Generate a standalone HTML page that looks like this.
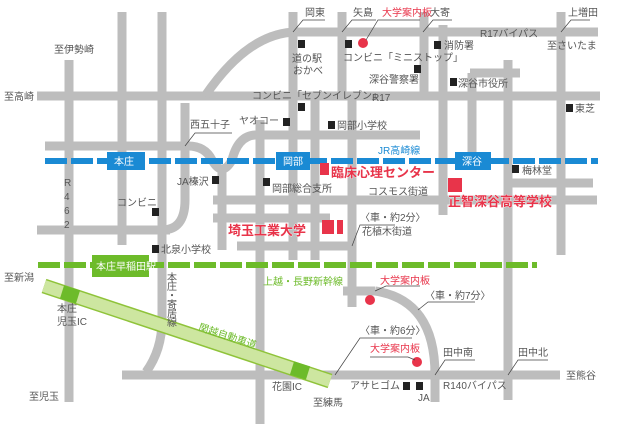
<!DOCTYPE html>
<html><head><meta charset="utf-8"><style>
html,body{margin:0;padding:0;background:#fff}
svg{display:block}
text{font-family:"Liberation Sans","Noto Sans CJK JP",sans-serif;font-size:10px;fill:#555}
.r{fill:#e8344a}
.b{font-weight:bold;font-size:13px;fill:#e8344a;stroke:#fff;stroke-width:0.6;paint-order:stroke}
.w{fill:#fff}
</style></head><body>
<svg width="620" height="424" viewBox="0 0 620 424" xmlns="http://www.w3.org/2000/svg">
<g stroke="#bdbdbd" stroke-width="9" fill="none">
<!-- horizontals -->
<line x1="37" y1="96" x2="600" y2="96"/>
<path d="M205 96 Q250 30 300 32 L598 32"/>
<line x1="45" y1="146" x2="188" y2="146"/>
<path d="M188 146 Q205 146 212 160 Q222 178 232 160 Q238 136 255 135 L420 135"/>
<line x1="37" y1="230" x2="170" y2="230"/>
<path d="M185 103 L185 200 Q185 230 162 230"/>
<line x1="213" y1="200" x2="597" y2="200"/>
<line x1="213" y1="218" x2="330" y2="218"/>
<line x1="237" y1="246" x2="352" y2="246"/>
<line x1="510" y1="183" x2="593" y2="183"/>
<line x1="470" y1="73" x2="520" y2="73"/>
<line x1="122" y1="375" x2="560" y2="375"/>
<line x1="343" y1="291" x2="375" y2="291"/>
<path d="M375 291 Q435 300 435 375 L435 402"/>
<!-- verticals -->
<line x1="69" y1="60" x2="69" y2="402"/>
<line x1="122" y1="12" x2="122" y2="245"/>
<path d="M162 12 L162 320 Q162 350 146 372"/>
<line x1="222" y1="165" x2="222" y2="250"/>
<line x1="260" y1="120" x2="260" y2="424"/>
<line x1="293" y1="12" x2="293" y2="260"/>
<line x1="315" y1="100" x2="315" y2="260"/>
<line x1="342" y1="12" x2="342" y2="96"/>
<line x1="352" y1="100" x2="352" y2="307"/>
<line x1="424" y1="12" x2="424" y2="96"/>
<line x1="443" y1="25" x2="443" y2="215"/>
<line x1="472" y1="73" x2="472" y2="165"/>
<line x1="508" y1="60" x2="508" y2="400"/>
<line x1="561" y1="12" x2="561" y2="255"/>
</g>
<!-- JR line -->
<line x1="45" y1="161" x2="598" y2="161" stroke="#1a8ad4" stroke-width="6" stroke-dasharray="22,4"/>
<rect x="107" y="152" width="38" height="18" fill="#1a8ad4"/><text x="114" y="165" class="w" font-size="11">本庄</text>
<rect x="276" y="152" width="34" height="18" fill="#1a8ad4"/><text x="283" y="165" class="w" font-size="11">岡部</text>
<rect x="455" y="152" width="36" height="18" fill="#1a8ad4"/><text x="462" y="165" class="w" font-size="11">深谷</text>
<!-- shinkansen -->
<line x1="38" y1="265" x2="537" y2="265" stroke="#6dbb2a" stroke-width="6" stroke-dasharray="22,4"/>
<rect x="92" y="255" width="57" height="22" fill="#6dbb2a"/><text x="96" y="270" class="w">本庄早稲田駅</text>
<!-- expressway -->
<line x1="44" y1="286" x2="330" y2="381" stroke="#8fc33a" stroke-width="15"/>
<line x1="44" y1="286" x2="330" y2="381" stroke="#cde6a0" stroke-width="12"/>
<line x1="62" y1="292" x2="78" y2="297" stroke="#6dbb2a" stroke-width="14"/>
<line x1="292" y1="368" x2="308" y2="373" stroke="#6dbb2a" stroke-width="14"/>
<text x="0" y="0" font-size="7" fill="#6dbb2a" transform="translate(198,330) rotate(18)" style="fill:#6dbb2a">関越自動車道</text>
<!-- black squares -->
<g fill="#222">
<rect x="298" y="40" width="7" height="8"/><rect x="345" y="40" width="7" height="8"/>
<rect x="434" y="41" width="7" height="8"/><rect x="414" y="65" width="7" height="8"/>
<rect x="450" y="78" width="7" height="8"/><rect x="566" y="104" width="7" height="8"/>
<rect x="298" y="103" width="7" height="8"/><rect x="283" y="118" width="7" height="8"/>
<rect x="328" y="121" width="7" height="8"/><rect x="512" y="165" width="7" height="8"/>
<rect x="212" y="176" width="7" height="8"/><rect x="263" y="178" width="7" height="8"/>
<rect x="152" y="208" width="7" height="8"/><rect x="152" y="245" width="7" height="8"/>
<rect x="403" y="382" width="7" height="8"/><rect x="416" y="382" width="7" height="8"/>
</g>
<!-- red buildings -->
<g fill="#e8344a">
<rect x="320" y="163" width="9" height="12"/><rect x="448" y="178" width="14" height="14"/>
<rect x="322" y="220" width="12" height="14"/><rect x="337" y="220" width="6" height="14"/>
<circle cx="363" cy="43" r="5"/><circle cx="370" cy="300" r="5"/><circle cx="417" cy="362" r="5"/>
</g>
<!-- leader lines -->
<g stroke="#444" stroke-width="0.7" fill="none">
<path d="M293 32 L303 20 L325 20"/><path d="M342 32 L352 20 L376 20"/><path d="M423 32 L433 20 L452 20"/>
<path d="M561 32 L571 20 L590 20"/><path d="M366 40 L378 20 L420 20"/>
<path d="M185 146 L195 133 L232 133"/><path d="M352 246 L360 225 L395 225"/>
<path d="M375 291 L386 286 L420 286"/><path d="M418 310 L428 302 L475 302"/>
<path d="M335 375 L360 338 L412 338"/><path d="M435 375 L445 360 L475 360"/><path d="M508 375 L518 360 L548 360"/>
<path d="M370 357 L408 357 L415 360"/>
</g>
<!-- labels -->
<text x="54" y="53">至伊勢崎</text>
<text x="4" y="100">至高崎</text>
<text x="64" y="186">R</text><text x="64" y="200">4</text><text x="64" y="214">6</text><text x="64" y="228">2</text>
<text x="190" y="128">西五十子</text>
<text x="239" y="124">ヤオコー</text>
<text x="252" y="99" font-size="9">コンビニ「セブンイレブン」</text>
<text x="305" y="16">岡東</text><text x="353" y="16">矢島</text>
<text x="382" y="16" class="r" font-size="9">大学案内板</text>
<text x="430" y="16">大寄</text><text x="568" y="16">上増田</text>
<text x="480" y="37">R17バイパス</text><text x="547" y="49">至さいたま</text>
<text x="292" y="62">道の駅</text><text x="293" y="74">おかべ</text>
<text x="343" y="61" font-size="9">コンビニ「ミニストップ」</text>
<text x="444" y="49">消防署</text>
<text x="369" y="83">深谷警察署</text>
<text x="458" y="87">深谷市役所</text>
<text x="372" y="101">R17</text>
<text x="575" y="112">東芝</text>
<text x="337" y="129">岡部小学校</text>
<text x="378" y="154" style="fill:#1a8ad4">JR高崎線</text>
<text x="522" y="174">梅林堂</text>
<text x="331" y="177" class="b">臨床心理センター</text>
<text x="368" y="195">コスモス街道</text>
<text x="448" y="206" class="b">正智深谷高等学校</text>
<text x="272" y="192">岡部総合支所</text>
<text x="177" y="185">JA榛沢</text>
<text x="117" y="206">コンビニ</text>
<text x="161" y="253">北泉小学校</text>
<text x="228" y="235" class="b">埼玉工業大学</text>
<text x="360" y="221" font-size="9">〈車・約2分〉</text>
<text x="362" y="235">花植木街道</text>
<text x="263" y="285" style="fill:#6dbb2a">上越・長野新幹線</text>
<text x="4" y="281">至新潟</text>
<text x="57" y="312">本庄</text><text x="57" y="325">児玉IC</text>
<text x="167" y="281" font-size="7">本</text><text x="167" y="290" font-size="7">庄</text><text x="167" y="299" font-size="7">・</text><text x="167" y="308" font-size="7">寄</text><text x="167" y="317" font-size="7">居</text><text x="167" y="326" font-size="7">線</text>
<text x="380" y="284" class="r" font-size="9">大学案内板</text>
<text x="425" y="299" font-size="9">〈車・約7分〉</text>
<text x="360" y="334" font-size="9">〈車・約6分〉</text>
<text x="370" y="352" class="r" font-size="9">大学案内板</text>
<text x="443" y="356">田中南</text><text x="518" y="356">田中北</text>
<text x="566" y="379">至熊谷</text>
<text x="350" y="389">アサヒゴム</text><text x="418" y="401">JA</text>
<text x="443" y="389">R140バイパス</text>
<text x="313" y="406">至練馬</text><text x="272" y="390">花園IC</text>
<text x="29" y="400">至児玉</text>
</svg>
</body></html>
